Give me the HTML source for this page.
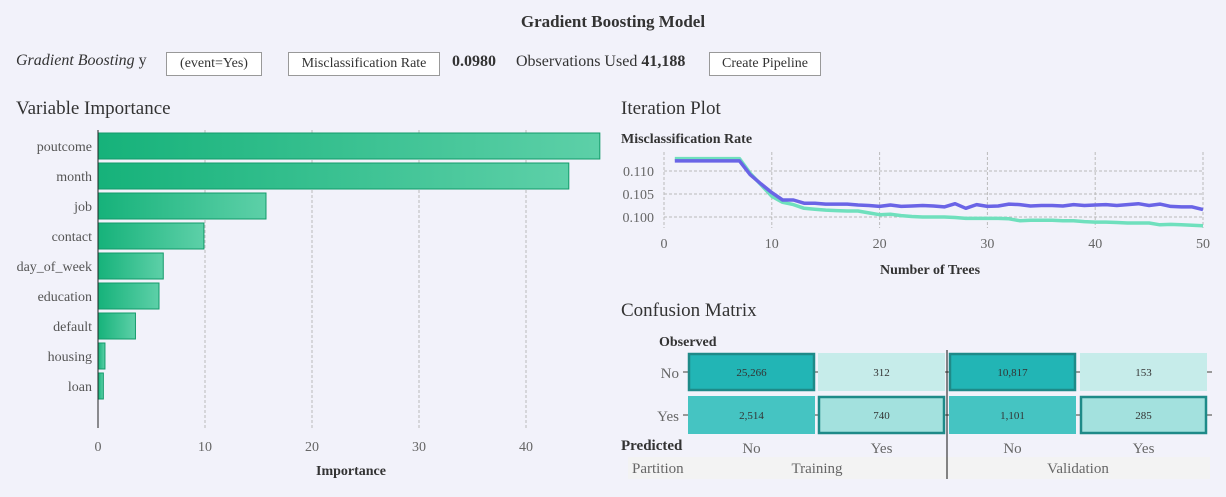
<!DOCTYPE html>
<html><head><meta charset="utf-8"><style>
body{margin:0;width:1226px;height:497px;background:#f2f2fa;font-family:"Liberation Serif",serif;overflow:hidden;position:relative;color:#333}
.a{position:absolute;white-space:nowrap}
.btn{position:absolute;border:1px solid #999;background:#fff;font-size:14px;height:22px;line-height:22px;text-align:center;color:#333}
</style></head><body>
<div class="a" style="left:0;width:1226px;text-align:center;top:12px;font-size:17px;font-weight:bold">Gradient Boosting Model</div>
<div class="a" style="left:16px;top:52px;font-size:16px"><i>Gradient Boosting</i> y</div>
<div class="btn" style="left:166px;top:52px;width:94px">(event=Yes)</div>
<div class="btn" style="left:288px;top:52px;width:150px">Misclassification Rate</div>
<div class="a" style="left:452px;top:53px;font-size:16px;font-weight:bold">0.0980</div>
<div class="a" style="left:516px;top:53px;font-size:16px">Observations Used <b>41,188</b></div>
<div class="btn" style="left:709px;top:52px;width:110px">Create Pipeline</div>
<div class="a" style="left:16px;top:98px;font-size:19px">Variable Importance</div>
<div class="a" style="left:621px;top:98px;font-size:19px">Iteration Plot</div>
<div class="a" style="left:621px;top:300px;font-size:19px">Confusion Matrix</div>
<svg width="1226" height="497" style="position:absolute;left:0;top:0" font-family="Liberation Serif, serif">
<defs><linearGradient id="g" x1="0" x2="1"><stop offset="0" stop-color="#16b27a"/><stop offset="1" stop-color="#5dd0a8"/></linearGradient></defs>
<g id="vi"></g><g id="it"></g><g id="cm"></g>
</svg>
<script>
const viCats=["poutcome","month","job","contact","day_of_week","education","default","housing","loan"];
const viVals=[46.9,44.0,15.7,9.9,6.1,5.7,3.5,0.65,0.5];
const viTicks=[0,10,20,30,40];
const itTicks=[0,10,20,30,40,50];
const itYTicks=[0.100,0.105,0.110];
const trainRate=[0.1127,0.1127,0.1127,0.1127,0.1127,0.1127,0.1127,0.1095,0.107,0.1045,0.1032,0.1027,0.1019,0.1017,0.1015,0.1014,0.1013,0.1013,0.1009,0.1005,0.1006,0.1003,0.1001,0.1,0.1,0.1,0.0999,0.0997,0.0997,0.0997,0.0997,0.0996,0.0992,0.0993,0.0993,0.0993,0.0992,0.0992,0.099,0.0989,0.0989,0.0988,0.0987,0.0987,0.0987,0.0983,0.0984,0.0983,0.0982,0.0981];
const validRate=[0.1122,0.1122,0.1122,0.1122,0.1122,0.1122,0.1122,0.1092,0.1072,0.1053,0.1037,0.1037,0.103,0.103,0.1028,0.1028,0.1028,0.1026,0.1025,0.1023,0.1026,0.1023,0.1024,0.1025,0.1024,0.1022,0.1029,0.1019,0.1027,0.1023,0.1024,0.1028,0.1027,0.1024,0.1025,0.1025,0.1024,0.1027,0.1025,0.1026,0.1027,0.1025,0.1027,0.1029,0.1025,0.1028,0.1023,0.1022,0.1022,0.1016];
const cmCounts=[[25266,312,10817,153],[2514,740,1101,285]];
const cmObs=["No","Yes"];
const cmPred=["No","Yes","No","Yes"];
const cmParts=["Training","Validation"];
const NS="http://www.w3.org/2000/svg";
function mk(p,t,a,txt){const e=document.createElementNS(NS,t);for(const k in a)e.setAttribute(k,a[k]);if(txt!==undefined)e.textContent=txt;p.appendChild(e);return e;}
// Variable importance
const vi=document.getElementById('vi');
const vx=v=>98+v*10.7, vy=i=>146+i*30;
viTicks.forEach(t=>{if(t>0){const l=mk(vi,'line',{x1:vx(t),x2:vx(t),y1:130,y2:428,stroke:'#bbb','stroke-dasharray':'3,2'});}
const tx=mk(vi,'text',{x:vx(t),y:451,'text-anchor':'middle','font-size':14,fill:'#666'},t);});
viCats.forEach((c,i)=>{const r=mk(vi,'rect',{x:vx(0),y:vy(i)-13,width:vx(viVals[i])-vx(0),height:26,fill:'url(#g)',stroke:'#139a6a','stroke-width':1});

const t=mk(vi,'text',{x:92,y:vy(i)+5,'text-anchor':'end','font-size':14,fill:'#555'},c);});
let ax=mk(vi,'line',{x1:98,x2:98,y1:130,y2:428,stroke:'#222'});
let xt=mk(vi,'text',{x:351,y:475,'text-anchor':'middle','font-size':14,'font-weight':'bold',fill:'#333'},'Importance');
// Iteration plot
const it=document.getElementById('it');
const ix=v=>664+v*10.78, iy=v=>217-(v-0.100)*4600;
let st=mk(it,'text',{x:621,y:143,'font-size':14,'font-weight':'bold',fill:'#333'},'Misclassification Rate');
itTicks.forEach(t=>{const l=mk(it,'line',{x1:ix(t),x2:ix(t),y1:152,y2:228,stroke:'#bbb','stroke-dasharray':'3,2'});
const tx=mk(it,'text',{x:ix(t),y:248,'text-anchor':'middle','font-size':14,fill:'#666'},t);});
itYTicks.forEach(t=>{const l=mk(it,'line',{x1:664,x2:1203,y1:iy(t),y2:iy(t),stroke:'#bbb','stroke-dasharray':'3,2'});
const tx=mk(it,'text',{x:654,y:iy(t)+5,'text-anchor':'end','font-size':14,fill:'#666'},t.toFixed(3));});
function line(arr,col,name){const p=arr.map((v,i)=>(i?'L':'M')+ix(i+1).toFixed(1)+','+iy(v).toFixed(1)).join('');const e=mk(it,'path',{d:p,fill:'none',stroke:col,'stroke-width':3.5,'stroke-linejoin':'round'});}
line(trainRate,'#6fe0bd','training-line');line(validRate,'#6a64e6','validation-line');
let it2=mk(it,'text',{x:930,y:274,'text-anchor':'middle','font-size':14,'font-weight':'bold',fill:'#333'},'Number of Trees');
// Confusion matrix
const cm=document.getElementById('cm');
const colX=[688,818,949,1080], rowY=[353,396], cw=127, ch=38;
let pb=mk(cm,'rect',{x:628,y:457,width:582,height:22,fill:'#f3f3f3'});
rowY.forEach((y,r)=>{const l=mk(cm,'line',{x1:683,x2:1212,y1:y+ch/2,y2:y+ch/2,stroke:'#999','stroke-width':2});});
const maxPer=[Math.max(cmCounts[0][0],cmCounts[1][0]),0];
cmCounts.forEach((row,r)=>row.forEach((v,c)=>{
 const part=c<2?0:1, tot=cmCounts[0][part*2]+cmCounts[0][part*2+1]+cmCounts[1][part*2]+cmCounts[1][part*2+1];
 const f=v/tot; const diag=(c%2)===r;
 let fill=f>0.5?'#22b5b5':f>0.04?'#45c4c2':f>0.013?'#a3e1de':'#c6ecea';
 const rc=mk(cm,'rect',{x:colX[c]+(diag?1:0),y:rowY[r]+(diag?1:0),width:cw-(diag?2:0),height:ch-(diag?2:0),fill:fill,stroke:diag?'#1e8a88':'none','stroke-width':diag?2.5:0});
 
 const t=mk(cm,'text',{x:colX[c]+cw/2,y:rowY[r]+ch/2+4,'text-anchor':'middle','font-size':11,fill:'#333'},v.toLocaleString('en-US'));}));
cmObs.forEach((o,r)=>{const t=mk(cm,'text',{x:679,y:rowY[r]+ch/2+6,'text-anchor':'end','font-size':15,fill:'#666'},o);});
cmPred.forEach((p,c)=>{const t=mk(cm,'text',{x:colX[c]+cw/2,y:453,'text-anchor':'middle','font-size':15,fill:'#666'},p);});
cmParts.forEach((p,i)=>{const t=mk(cm,'text',{x:colX[i*2]+cw+2,y:473,'text-anchor':'middle','font-size':15,fill:'#666'},p);});
let pt=mk(cm,'text',{x:632,y:473,'font-size':15,fill:'#666'},'Partition');
let ob=mk(cm,'text',{x:659,y:346,'font-size':14,'font-weight':'bold',fill:'#333'},'Observed');
let pr=mk(cm,'text',{x:621,y:450,'font-size':15,'font-weight':'bold',fill:'#333'},'Predicted');
let dv=mk(cm,'line',{x1:947,x2:947,y1:350,y2:479,stroke:'#111'});
</script>
</body></html>
